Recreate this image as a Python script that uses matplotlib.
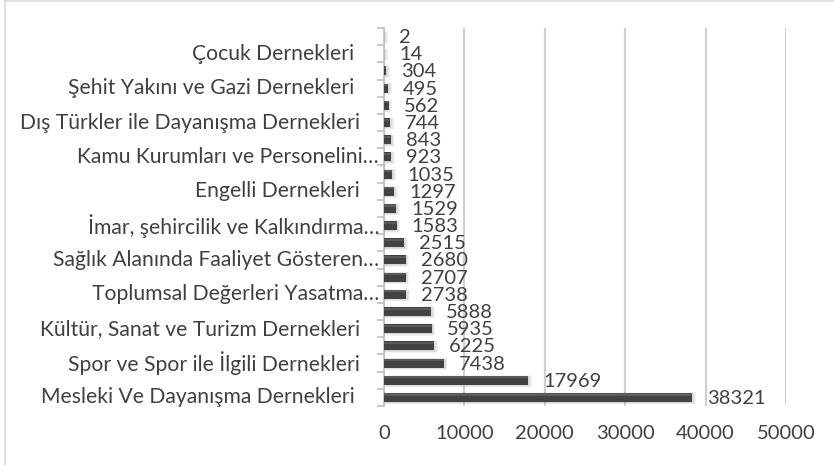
import matplotlib
matplotlib.use("Agg")
import matplotlib.pyplot as plt
import matplotlib.transforms as mtransforms
from matplotlib.lines import Line2D
import numpy as np

# Values from bottom to top
values = [38321, 17969, 7438, 6225, 5935, 5888, 2738, 2707, 2680, 2515,
          1583, 1529, 1297, 1035, 923, 843, 744, 562, 495, 304, 14, 2]
# Visible category labels (every second category, from bottom)
labels = ["Mesleki Ve Dayanışma Dernekleri ",
          "Spor ve Spor ile İlgili Dernekleri",
          "Kültür, Sanat ve Turizm Dernekleri",
          "Toplumsal Değerleri Yasatma…",
          "Sağlık Alanında Faaliyet Gösteren…",
          "İmar, şehircilik ve Kalkındırma…",
          "Engelli Dernekleri",
          "Kamu Kurumları ve Personelini…",
          "Dış Türkler ile Dayanışma Dernekleri",
          "Şehit Yakını ve Gazi Dernekleri ",
          "Çocuk Dernekleri "]
xticks = [0, 10000, 20000, 30000, 40000, 50000]

plt.rcParams['font.family'] = ['Lato', 'DejaVu Sans']
TXT = '#404040'

fig = plt.figure(figsize=(8.34, 4.65), dpi=100)
ax = fig.add_axes([384/834, 1-406/465, (786-384)/834, (406-28)/465])

y = np.arange(len(values))

# soft shadow
for k in range(4):
    ax.barh(y - 0.05, np.array(values) + 120 + 110*k, height=0.50 + 0.07*k,
            left=0, color='#707070', alpha=0.08, zorder=2, linewidth=0)
ax.barh(y, values, height=0.52, color='#424242', zorder=3, linewidth=0)
ax.barh(y + 0.17, values, height=0.12, color='#5a5a5a', zorder=3, linewidth=0)

for yi, v in zip(y, values):
    ax.annotate(str(v), xy=(v, yi), xytext=(15, -1), textcoords='offset pixels',
                ha='left', va='center', fontsize=14.5, color=TXT, zorder=5)

ax.set_xlim(0, 50000)
ax.set_ylim(-0.5, len(values) - 0.5)
ax.set_xticks(xticks)
ax.set_xticklabels([str(t) for t in xticks], fontsize=14.5, color=TXT)
ax.tick_params(axis='x', length=0, pad=14)
ax.grid(axis='x', color='#d0d0d0', linewidth=1.5, zorder=0)
ax.set_axisbelow(True)

ax.set_yticks(np.arange(-0.5, len(values), 1.0))
ax.set_yticklabels([])
ax.tick_params(axis='y', length=5, color='#bfbfbf', width=1.2, direction='out')

trans = mtransforms.blended_transform_factory(ax.transAxes, ax.transData)
for i, lab in enumerate(labels):
    dx = -5 if lab.endswith('…') else -24
    off = mtransforms.ScaledTranslation(dx/100, 0, fig.dpi_scale_trans)
    ax.text(0, 2*i, lab, transform=trans + off, ha='right', va='center',
            fontsize=15.2, color=TXT)

for s in ['top', 'right', 'bottom']:
    ax.spines[s].set_visible(False)
ax.spines['left'].set_color('#bfbfbf')
ax.spines['left'].set_linewidth(1.2)

# chart frame (left and top edges visible in crop)
fig.add_artist(Line2D([4.5/834, 4.5/834], [0, 1-1/465], transform=fig.transFigure,
                      color='#d9d9d9', linewidth=1.2))
fig.add_artist(Line2D([4.5/834, 1], [1-1.5/465, 1-1.5/465], transform=fig.transFigure,
                      color='#d9d9d9', linewidth=1.2))

fig.savefig('out.png', dpi=100)
